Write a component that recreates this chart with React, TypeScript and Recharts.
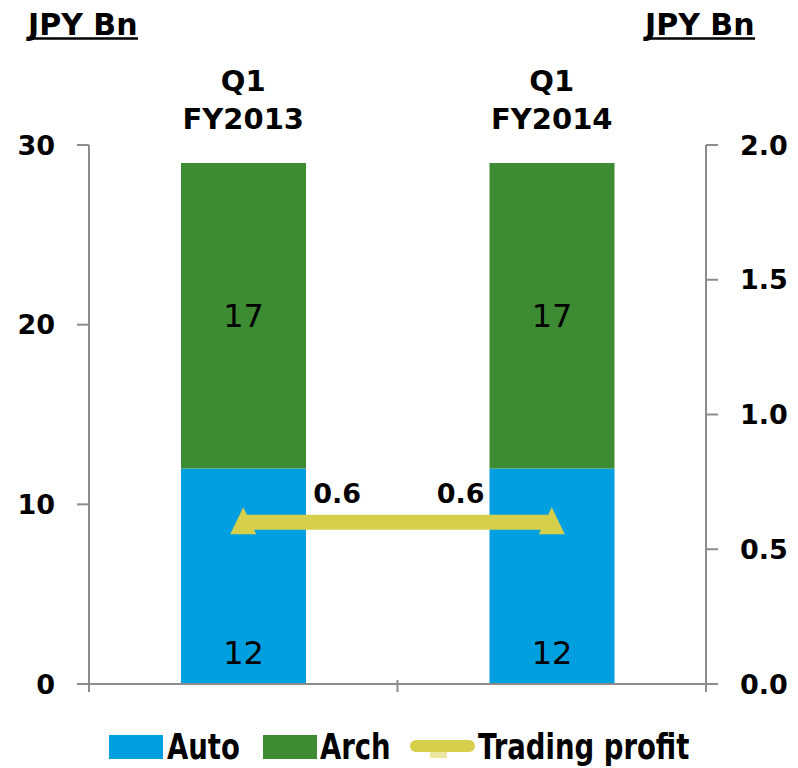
import { ComposedChart, Bar, Line, XAxis, YAxis, LabelList } from "recharts";

const categories = ["Q1 FY2013", "Q1 FY2014"];
const autoSales = [12, 12];
const archSales = [17, 17];
const tradingProfit = [0.6, 0.6];
const leftTicks = [0, 10, 20, 30];
const rightTicks = [0, 0.5, 1, 1.5, 2];

const data = categories.map((name, i) => ({
  name,
  auto: autoSales[i],
  arch: archSales[i],
  profit: tradingProfit[i],
}));

const FONT = "'DejaVu Sans', Verdana, sans-serif";
const AXIS = "#8c8c8c";
const BLUE = "#009fe0";
const GREEN = "#3d8c34";
const YELLOW = "#d6cf4c";

const LEFT_W = 89;
const RIGHT_W = 92;
const CHART_W = 798;
const HALF_BAND = (CHART_W - LEFT_W - RIGHT_W) / 4;

function TopTick(props: any) {
  const { x, payload } = props;
  const [a, b] = String(payload.value).split(" ");
  return (
    <g>
      <text x={x} y={91} textAnchor="middle" fontFamily={FONT} fontWeight="bold" fontSize={29} fill="#000">
        {a}
      </text>
      <text x={x} y={129} textAnchor="middle" fontFamily={FONT} fontWeight="bold" fontSize={29} fill="#000">
        {b}
      </text>
    </g>
  );
}

function BottomTick(props: any) {
  const { x, y, index } = props;
  const top = y - 12;
  return (
    <g stroke={AXIS} strokeWidth={2}>
      {index === 0 && <line x1={x - HALF_BAND} y1={top} x2={x - HALF_BAND} y2={top + 12} />}
      <line x1={x + HALF_BAND} y1={top} x2={x + HALF_BAND} y2={top + 12} />
    </g>
  );
}

function Triangle(props: any) {
  const { cx, cy } = props;
  if (cx == null || cy == null) return null;
  return <polygon points={`${cx},${cy - 15} ${cx - 13},${cy + 12} ${cx + 13},${cy + 12}`} fill={YELLOW} />;
}

function ProfitLabel(props: any) {
  const { x, y, value, index } = props;
  const dx = index === 0 ? 94 : -91;
  return (
    <text x={x + dx} y={y - 29} dy={10} textAnchor="middle" fontFamily={FONT} fontWeight="bold" fontSize={27} fill="#000">
      {String(value)}
    </text>
  );
}

function Title({ x }: { x: number }) {
  return (
    <g>
      <text x={x} y={35} fontFamily={FONT} fontWeight="bold" fontSize={30} fill="#000">
        JPY Bn
      </text>
      <line x1={x} y1={38.5} x2={x + 110} y2={38.5} stroke="#000" strokeWidth={2.7} />
    </g>
  );
}

function LegendText({ x, children }: { x: number; children: string }) {
  return (
    <text
      transform={`translate(${x},759) scale(1,1.3)`}
      fontFamily={FONT}
      fontWeight="bold"
      fontSize={27.5}
      fill="#000"
    >
      {children}
    </text>
  );
}

const tickStyle = { fontFamily: FONT, fontWeight: "bold", fontSize: 27, fill: "#000" };

export default function App() {
  return (
    <div style={{ position: "absolute", left: 0, top: 0, width: 798, height: 768, background: "#fff", fontFamily: FONT }}>
      <ComposedChart width={798} height={768} data={data} margin={{ top: 55, right: 0, left: 0, bottom: 0 }} barCategoryGap={0}>
        <XAxis
          xAxisId="top"
          orientation="top"
          dataKey="name"
          height={90}
          axisLine={false}
          tickLine={false}
          tick={<TopTick />}
        />
        <XAxis
          dataKey="name"
          height={84}
          axisLine={{ stroke: AXIS, strokeWidth: 2 }}
          tickLine={false}
          tick={<BottomTick />}
        />
        <YAxis
          yAxisId="left"
          width={LEFT_W}
          domain={[0, 30]}
          ticks={leftTicks}
          tickSize={12}
          tickMargin={22}
          axisLine={{ stroke: AXIS, strokeWidth: 2 }}
          tickLine={{ stroke: AXIS, strokeWidth: 2 }}
          tick={tickStyle}
        />
        <YAxis
          yAxisId="right"
          orientation="right"
          width={RIGHT_W}
          domain={[0, 2]}
          ticks={rightTicks}
          tickFormatter={(v: number) => v.toFixed(1)}
          tickSize={12}
          tickMargin={22}
          axisLine={{ stroke: AXIS, strokeWidth: 2 }}
          tickLine={{ stroke: AXIS, strokeWidth: 2 }}
          tick={tickStyle}
        />
        <Bar yAxisId="left" dataKey="auto" stackId="s" fill={BLUE} barSize={125} isAnimationActive={false}>
          <LabelList
            dataKey="auto"
            position="insideBottom"
            offset={20}
            style={{ fontFamily: FONT, fontSize: 32, fill: "#000" }}
          />
        </Bar>
        <Bar yAxisId="left" dataKey="arch" stackId="s" fill={GREEN} barSize={125} isAnimationActive={false}>
          <LabelList dataKey="arch" position="center" style={{ fontFamily: FONT, fontSize: 32, fill: "#000" }} />
        </Bar>
        <Line
          yAxisId="right"
          dataKey="profit"
          type="linear"
          stroke={YELLOW}
          strokeWidth={15}
          dot={<Triangle />}
          activeDot={false}
          isAnimationActive={false}
        >
          <LabelList dataKey="profit" content={<ProfitLabel />} />
        </Line>
      </ComposedChart>
      <svg width={798} height={768} style={{ position: "absolute", left: 0, top: 0, pointerEvents: "none" }}>
        <Title x={28} />
        <Title x={645} />
        <rect x={109} y={735} width={54} height={24} fill={BLUE} />
        <LegendText x={167}>Auto</LegendText>
        <rect x={263} y={735} width={54} height={24} fill={GREEN} />
        <LegendText x={320}>Arch</LegendText>
        <line x1={416} y1={746} x2={469} y2={746} stroke={YELLOW} strokeWidth={12} strokeLinecap="round" />
        <rect x={430} y={752} width={17} height={6} fill="#ece7a0" />
        <LegendText x={478}>Trading profit</LegendText>
      </svg>
    </div>
  );
}
